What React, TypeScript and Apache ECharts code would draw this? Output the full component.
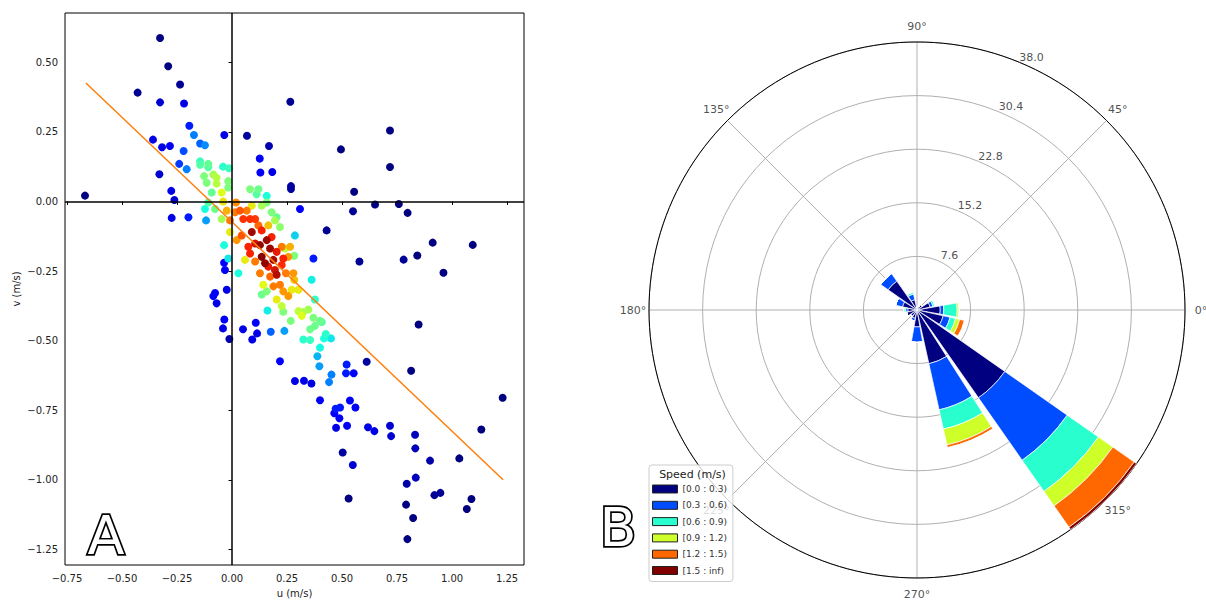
import React, { useEffect, useRef } from 'react';
import * as echarts from 'echarts';

// ---------- Panel A: scatter of (u, v) coloured by point density ----------
const X_RANGE = [-0.759, 1.327];
const Y_RANGE = [-1.306, 0.677];
const X_TICKS = [-0.75, -0.5, -0.25, 0, 0.25, 0.5, 0.75, 1.0, 1.25];
const Y_TICKS = [-1.25, -1.0, -0.75, -0.5, -0.25, 0, 0.25, 0.5];
const FIT_LINE = [[-0.664, 0.4255], [1.232, -1.0]];

// [u, v, density(0..1)]
const POINTS: number[][] = [
  [-0.327, 0.587, 0.0], [-0.29, 0.486, 0.0], [-0.236, 0.42, 0.02], [-0.429, 0.391, 0.02],
  [-0.327, 0.356, 0.08], [-0.218, 0.352, 0.1], [0.265, 0.358, 0.02], [-0.194, 0.272, 0.15],
  [-0.173, 0.239, 0.25], [-0.035, 0.239, 0.1], [0.068, 0.236, 0.03], [-0.359, 0.222, 0.1],
  [-0.318, 0.195, 0.1], [-0.282, 0.199, 0.12], [-0.145, 0.208, 0.22], [-0.123, 0.202, 0.26],
  [0.168, 0.199, 0.05], [-0.22, 0.181, 0.2], [0.495, 0.187, 0.0], [0.718, 0.255, 0.0],
  [0.718, 0.124, 0.0], [0.126, 0.154, 0.12], [-0.24, 0.135, 0.18], [-0.206, 0.116, 0.25],
  [-0.145, 0.144, 0.42], [-0.145, 0.132, 0.45], [-0.108, 0.135, 0.47], [-0.108, 0.123, 0.45],
  [-0.041, 0.125, 0.4], [-0.014, 0.119, 0.42], [0.129, 0.104, 0.12], [0.183, 0.106, 0.1],
  [-0.33, 0.098, 0.08], [-0.127, 0.091, 0.5], [-0.085, 0.097, 0.55], [-0.07, 0.085, 0.57],
  [0.268, 0.055, 0.03], [0.268, 0.045, 0.03],
  [-0.276, 0.038, 0.1], [-0.668, 0.021, 0.0], [-0.262, 0.005, 0.08], [-0.274, -0.059, 0.1],
  [-0.198, -0.057, 0.15], [0.555, 0.035, 0.0], [0.55, -0.035, 0.02], [0.65, -0.011, 0.0],
  [0.758, -0.009, 0.0], [0.798, -0.041, 0.0], [0.579, -0.216, 0.02], [0.78, -0.209, 0.02],
  [0.842, -0.194, 0.0], [0.912, -0.148, 0.0], [1.094, -0.156, 0.0], [0.961, -0.256, 0.0],
  [-0.115, 0.067, 0.5], [-0.07, 0.064, 0.57], [-0.017, 0.073, 0.5], [-0.017, 0.05, 0.5],
  [-0.092, 0.032, 0.47], [-0.047, 0.032, 0.62], [0.082, 0.044, 0.5], [0.12, 0.044, 0.48],
  [0.112, 0.026, 0.45], [0.158, 0.02, 0.38], [-0.108, -0.004, 0.45], [-0.123, -0.027, 0.38],
  [-0.077, -0.027, 0.48], [-0.04, 0.0, 0.66], [0.018, -0.004, 0.76], [0.09, -0.015, 0.65],
  [0.135, -0.015, 0.55], [0.158, -0.004, 0.5], [0.309, -0.027, 0.12], [-0.024, -0.033, 0.72],
  [0.014, -0.039, 0.78], [0.036, -0.033, 0.82], [0.067, -0.033, 0.78], [0.18, -0.039, 0.5],
  [0.203, -0.057, 0.47], [-0.118, -0.068, 0.28], [-0.047, -0.063, 0.55], [-0.009, -0.068, 0.78],
  [0.051, -0.063, 0.86], [0.082, -0.063, 0.86], [0.105, -0.063, 0.85], [0.12, -0.086, 0.8],
  [0.165, -0.086, 0.7], [0.195, -0.068, 0.55], [0.218, -0.092, 0.52], [0.43, -0.104, 0.02],
  [-0.009, -0.11, 0.65], [0.021, -0.139, 0.75], [0.044, -0.122, 0.82], [0.09, -0.11, 0.97],
  [0.135, -0.104, 0.88], [0.18, -0.128, 0.88], [0.158, -0.139, 0.97], [0.127, -0.157, 0.98],
  [0.105, -0.151, 0.92], [0.074, -0.163, 0.88], [0.082, -0.187, 0.88], [0.135, -0.199, 0.99],
  [0.173, -0.169, 0.97], [0.203, -0.181, 0.9], [0.226, -0.163, 0.78], [0.241, -0.169, 0.58],
  [0.264, -0.163, 0.72], [0.283, -0.195, 0.5], [0.256, -0.199, 0.75], [0.233, -0.205, 0.88],
  [0.188, -0.21, 0.96], [0.15, -0.222, 0.98], [0.165, -0.234, 0.9], [0.195, -0.246, 0.92],
  [0.226, -0.228, 0.87], [0.203, -0.263, 0.95], [0.173, -0.27, 0.8], [0.127, -0.258, 0.78],
  [0.105, -0.216, 0.78], [0.059, -0.21, 0.65], [0.245, -0.258, 0.78], [0.279, -0.258, 0.75],
  [0.283, -0.281, 0.7], [-0.036, -0.157, 0.38], [-0.017, -0.205, 0.35], [-0.036, -0.22, 0.12],
  [-0.032, -0.246, 0.12], [0.029, -0.258, 0.38], [0.286, -0.122, 0.33], [0.37, -0.205, 0.15],
  [0.362, -0.281, 0.36], [0.377, -0.352, 0.4], [0.142, -0.299, 0.63], [0.158, -0.323, 0.5],
  [0.135, -0.334, 0.48], [0.188, -0.305, 0.78], [0.218, -0.299, 0.78], [0.233, -0.323, 0.75],
  [0.271, -0.317, 0.65], [0.256, -0.34, 0.75], [0.302, -0.317, 0.65], [0.203, -0.352, 0.65],
  [-0.077, -0.329, 0.12], [-0.085, -0.34, 0.12], [-0.07, -0.366, 0.1], [-0.024, -0.317, 0.1],
  [-0.035, -0.424, 0.12], [-0.041, -0.456, 0.1], [-0.012, -0.494, 0.05], [0.108, -0.436, 0.12],
  [0.05, -0.459, 0.1], [0.114, -0.474, 0.1], [0.092, -0.496, 0.1], [0.176, -0.468, 0.22],
  [0.238, -0.465, 0.28], [0.161, -0.392, 0.36], [0.226, -0.376, 0.58], [0.233, -0.396, 0.5],
  [0.267, -0.429, 0.5], [0.302, -0.394, 0.58], [0.317, -0.411, 0.62], [0.324, -0.397, 0.56],
  [0.347, -0.388, 0.55], [0.37, -0.418, 0.5], [0.355, -0.459, 0.48], [0.377, -0.447, 0.48],
  [0.4, -0.429, 0.48], [0.408, -0.433, 0.45], [0.324, -0.496, 0.4], [0.355, -0.498, 0.42],
  [0.426, -0.476, 0.4], [0.418, -0.492, 0.38], [0.45, -0.492, 0.35], [0.4, -0.525, 0.37],
  [0.388, -0.556, 0.3], [0.397, -0.592, 0.28], [0.218, -0.574, 0.12], [0.452, -0.622, 0.25],
  [0.441, -0.649, 0.25], [0.286, -0.645, 0.1], [0.327, -0.644, 0.1], [0.361, -0.654, 0.1],
  [0.521, -0.586, 0.15], [0.518, -0.617, 0.15], [0.553, -0.617, 0.12], [0.612, -0.576, 0.03],
  [0.814, -0.608, 0.0], [0.848, -0.442, 0.0], [1.23, -0.705, 0.0], [0.4, -0.714, 0.12],
  [0.471, -0.745, 0.15], [0.491, -0.74, 0.15], [0.465, -0.761, 0.12], [0.488, -0.779, 0.12],
  [0.473, -0.813, 0.1], [0.536, -0.715, 0.12], [0.561, -0.74, 0.12], [0.523, -0.806, 0.12],
  [0.618, -0.811, 0.1], [0.647, -0.825, 0.1], [0.718, -0.806, 0.08], [0.723, -0.843, 0.08],
  [0.832, -0.838, 0.06], [0.833, -0.887, 0.06], [1.133, -0.819, 0.0], [0.503, -0.902, 0.03],
  [0.549, -0.947, 0.08], [0.9, -0.931, 0.04], [1.033, -0.923, 0.0], [0.835, -0.992, 0.06],
  [0.794, -1.014, 0.04], [0.92, -1.055, 0.02], [0.947, -1.047, 0.02], [1.088, -1.069, 0.0],
  [1.067, -1.105, 0.0], [0.53, -1.067, 0.0], [0.791, -1.089, 0.0], [0.823, -1.137, 0.0],
  [0.797, -1.213, 0.0],
];

const JET = ['#000080', '#0000ff', '#0080ff', '#15ffe2', '#7cff7a', '#e2ff15', '#ff9700', '#ff2200', '#800000'];

// ---------- Panel B: wind rose (frequency %, stacked by speed bin) ----------
const DIRECTIONS = ['0', '22.5', '45', '67.5', '90', '112.5', '135', '157.5', '180', '202.5', '225', '247.5', '270', '292.5', '315', '337.5'];
const SPEED_BINS = ['[0.0 : 0.3)', '[0.3 : 0.6)', '[0.6 : 0.9)', '[0.9 : 1.2)', '[1.2 : 1.5)', '[1.5 : inf)'];
const BIN_COLORS = ['#000080', '#004cff', '#29ffce', '#ceff29', '#ff6800', '#800000'];
const FREQ_00_03 = [3.3, 1.9, 0.9, 0.6, 0.4, 1.5, 5.0, 2.1, 1.3, 1.5, 1.1, 1.2, 2.4, 7.8, 15.2, 3.8];
const FREQ_03_06 = [0.5, 0.4, 0, 0, 0, 0.8, 1.3, 1.0, 0.3, 0, 0, 0.4, 2.2, 6.7, 10.8, 1.0];
const FREQ_06_09 = [1.9, 0.3, 0, 0, 0, 0.3, 0, 0, 0.3, 0, 0, 0, 0, 2.8, 5.4, 0.8];
const FREQ_09_12 = [0.3, 0, 0, 0, 0, 0, 0, 0, 0, 0, 0, 0, 0, 2.3, 2.5, 0.6];
const FREQ_12_15 = [0, 0, 0, 0, 0, 0, 0, 0, 0, 0, 0, 0, 0, 0.4, 3.7, 0.7];
const FREQ_15_INF = [0, 0, 0, 0, 0, 0, 0, 0, 0, 0, 0, 0, 0, 0, 0.4, 0];
const FREQS = [FREQ_00_03, FREQ_03_06, FREQ_06_09, FREQ_09_12, FREQ_12_15, FREQ_15_INF];
const RADIUS_MAX = 38.0;
const RADIUS_TICKS = [7.6, 15.2, 22.8, 30.4, 38.0];
const ANGLE_TICKS = [0, 45, 90, 135, 180, 225, 270, 315];
const RADIUS_LABEL_ANGLE = 67.5;

const FONT = 'DejaVu Sans';
const fmtMinus = (v: number) => v.toFixed(2).replace('-', '\u2212');

export default function App() {
  const ref = useRef<HTMLDivElement>(null);
  useEffect(() => {
    if (!ref.current) return;
    const chart = echarts.init(ref.current, undefined, { renderer: 'svg' });
    const center = [917, 310];
    const radius = 268;
    const sorted = POINTS.slice().sort((a, b) => a[2] - b[2]);
    const hiddenAngle = (polarIndex: number, extra: any = {}) => ({
      polarIndex, type: 'value', min: 0, max: 360, startAngle: 0, clockwise: false,
      axisLine: { show: false }, axisTick: { show: false }, axisLabel: { show: false }, splitLine: { show: false },
      ...extra,
    });
    const hiddenRadius = (polarIndex: number, max: number) => ({
      polarIndex, type: 'value', min: 0, max,
      axisLine: { show: false }, axisTick: { show: false }, axisLabel: { show: false }, splitLine: { show: false },
    });

    const option: any = {
      animation: false,
      backgroundColor: '#ffffff',
      textStyle: { fontFamily: FONT },
      grid: {
        left: 65, top: 13, width: 459, height: 559,
        show: true, borderColor: '#000', borderWidth: 1, backgroundColor: 'transparent',
      },
      xAxis: {
        type: 'value', min: X_RANGE[0], max: X_RANGE[1],
        name: 'u (m/s)', nameLocation: 'middle', nameGap: 23,
        nameTextStyle: { fontSize: 10, color: '#222', fontFamily: FONT },
        axisLine: { show: false },
        axisTick: { show: true, length: 3.5, inside: false, lineStyle: { color: '#000' }, customValues: X_TICKS },
        axisLabel: { fontSize: 10, color: '#222', margin: 8, customValues: X_TICKS, formatter: fmtMinus },
        splitLine: { show: false },
      },
      yAxis: {
        type: 'value', min: Y_RANGE[0], max: Y_RANGE[1],
        name: 'v (m/s)', nameLocation: 'middle', nameGap: 44, nameRotate: 90,
        nameTextStyle: { fontSize: 10, color: '#222', fontFamily: FONT },
        axisLine: { show: false },
        axisTick: { show: true, length: 3.5, lineStyle: { color: '#000' }, customValues: Y_TICKS },
        axisLabel: { fontSize: 10, color: '#222', margin: 7, customValues: Y_TICKS, formatter: fmtMinus },
        splitLine: { show: false },
      },
      polar: [
        { center, radius },
        { center, radius },
        { center, radius: radius + 16 }, // ring on which the angle labels sit
      ],
      angleAxis: [
        {
          polarIndex: 0, type: 'value', min: 0, max: 360, interval: 45,
          startAngle: 0, clockwise: false,
          axisLine: { show: true, lineStyle: { color: '#000', width: 1 } },
          axisTick: { show: false },
          axisLabel: { show: false },
          splitLine: { show: true, lineStyle: { color: '#b0b0b0', width: 1 } },
        },
        {
          polarIndex: 1, type: 'category', data: DIRECTIONS,
          startAngle: -11.25, clockwise: false,
          axisLine: { show: false }, axisTick: { show: false }, axisLabel: { show: false }, splitLine: { show: false },
        },
        hiddenAngle(2),
      ],
      radiusAxis: [
        {
          polarIndex: 0, type: 'value', min: 0, max: RADIUS_MAX, interval: 7.6,
          axisLine: { show: false }, axisTick: { show: false }, axisLabel: { show: false },
          splitLine: { show: true, lineStyle: { color: '#b0b0b0', width: 1 } },
        },
        hiddenRadius(1, RADIUS_MAX),
        hiddenRadius(2, 1),
      ],
      visualMap: {
        show: false, type: 'continuous', seriesIndex: 0, dimension: 2, min: 0, max: 1,
        inRange: { color: JET },
      },
      legend: {
        data: SPEED_BINS, orient: 'vertical', left: 649, top: 465,
        padding: [19, 6, 6, 3], itemGap: 6.3, itemWidth: 25, itemHeight: 8,
        backgroundColor: 'rgba(255,255,255,0.8)', borderColor: '#cccccc', borderWidth: 1, borderRadius: 3,
        icon: 'rect',
        itemStyle: { borderColor: '#222', borderWidth: 1 },
        textStyle: { fontSize: 9, color: '#333', lineHeight: 10, fontFamily: FONT },
        selectedMode: false, z: 10,
      },
      graphic: [
        {
          type: 'text', x: 692.5, y: 474, z: 100,
          style: { text: 'Speed (m/s)', fontSize: 11, fontFamily: FONT, fill: '#222', align: 'center', verticalAlign: 'middle' },
        },
        {
          type: 'text', x: 106, y: 535, z: 100,
          style: {
            text: 'A', fontSize: 54, fontFamily: FONT, fill: '#ffffff', stroke: '#000000', lineWidth: 3.4,
            align: 'center', verticalAlign: 'middle',
            shadowColor: 'rgba(0,0,0,0.45)', shadowOffsetX: 2, shadowOffsetY: 2, shadowBlur: 1,
          },
        },
        {
          type: 'text', x: 618, y: 527, z: 100,
          style: {
            text: 'B', fontSize: 54, fontFamily: FONT, fill: '#ffffff', stroke: '#000000', lineWidth: 3.4,
            align: 'center', verticalAlign: 'middle',
            shadowColor: 'rgba(0,0,0,0.45)', shadowOffsetX: 2, shadowOffsetY: 2, shadowBlur: 1,
          },
        },
      ],
      series: [
        {
          type: 'scatter', xAxisIndex: 0, yAxisIndex: 0, data: sorted,
          symbolSize: 8, itemStyle: { opacity: 1 }, z: 2,
        },
        {
          type: 'line', xAxisIndex: 0, yAxisIndex: 0, data: FIT_LINE, symbol: 'none', z: 4,
          lineStyle: { color: '#ff7f0e', width: 1.5 },
          markLine: {
            silent: true, symbol: 'none', label: { show: false },
            lineStyle: { color: '#000', width: 1.5, type: 'solid' },
            data: [{ xAxis: 0 }, { yAxis: 0 }],
          },
        },
        ...SPEED_BINS.map((name, i) => ({
          name, type: 'bar', coordinateSystem: 'polar', polarIndex: 1, stack: 'rose',
          data: FREQS[i], barCategoryGap: '11%',
          itemStyle: { color: BIN_COLORS[i], borderColor: '#ffffff', borderWidth: 0.7 },
          z: 3,
        })),
        {
          // angle tick labels of the wind rose
          type: 'scatter', coordinateSystem: 'polar', polarIndex: 2, silent: true,
          symbolSize: 1, itemStyle: { color: 'rgba(0,0,0,0)' }, z: 5,
          data: ANGLE_TICKS.map((a) => ({ value: [1, a], name: a + '\u00b0' })),
          label: {
            show: true, position: 'inside', formatter: '{b}', fontSize: 11, color: '#222',
            fontFamily: FONT, align: 'center', verticalAlign: 'middle',
          },
        },
        {
          // radius tick labels of the wind rose
          type: 'scatter', coordinateSystem: 'polar', polarIndex: 0, silent: true,
          symbolSize: 1, itemStyle: { color: 'rgba(0,0,0,0)' }, z: 5,
          data: RADIUS_TICKS.map((r) => ({ value: [r, RADIUS_LABEL_ANGLE], name: r.toFixed(1) })),
          label: {
            show: true, position: 'inside', formatter: '{b}', fontSize: 11, color: '#222',
            fontFamily: FONT, align: 'center', verticalAlign: 'middle', offset: [12, -5],
          },
        },
      ],
    };
    chart.setOption(option);
    return () => chart.dispose();
  }, []);
  return <div ref={ref} style={{ position: 'fixed', left: 0, top: 0, width: 1206, height: 603 }} />;
}
